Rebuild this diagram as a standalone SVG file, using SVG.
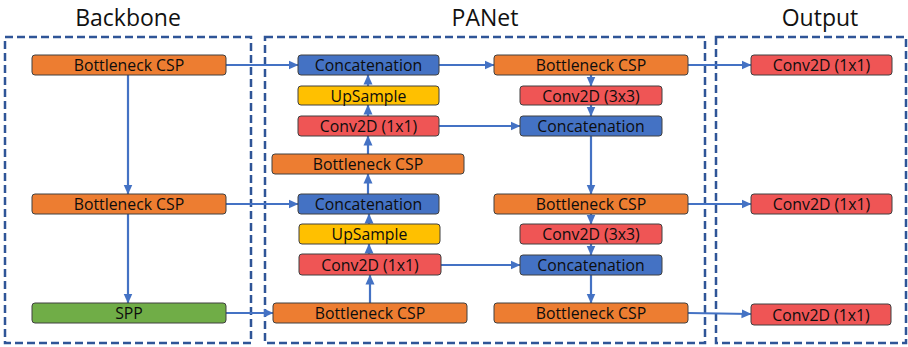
<svg xmlns="http://www.w3.org/2000/svg" width="908" height="347" viewBox="0 0 908 347">
<defs>
<marker id="ah" markerUnits="userSpaceOnUse" markerWidth="10" markerHeight="10" viewBox="0 0 10 10" refX="9.5" refY="5" orient="auto">
<path d="M0,0.5 L10,5 L0,9.5 Z" fill="#4472C4"/>
</marker>
</defs>
<style>
.title{font-family:"Open Sans","Noto Sans",sans-serif;font-size:23px;fill:#111;text-anchor:middle}
.lbl{font-family:"Open Sans","Noto Sans",sans-serif;font-size:15.8px;fill:#0d0d0d;text-anchor:middle;dominant-baseline:central}
.box{stroke:#404040;stroke-width:1}
.or{fill:#ED7D31}.bl{fill:#4472C4}.ye{fill:#FFC000}.rd{fill:#EF5555}.gr{fill:#70AD47}
.grp{fill:none;stroke:#2F5597;stroke-width:2.5;stroke-dasharray:8 4}
.c{fill:none;stroke:#4472C4;stroke-width:2.2;marker-end:url(#ah)}
</style>
<rect width="908" height="347" fill="#fff"/>
<g id="groups">
<rect class="grp" x="5" y="37" width="246" height="306"/>
<rect class="grp" x="265" y="37" width="440" height="306"/>
<rect class="grp" x="716" y="37" width="190" height="306"/>
<text class="title" x="128" y="25.5">Backbone</text>
<text class="title" x="485" y="25.5">PANet</text>
<text class="title" x="820" y="25.5">Output</text>
</g>
<g id="connectors">
<line class="c" x1="226" y1="65" x2="298" y2="65"/>
<line class="c" x1="439" y1="65" x2="494" y2="65"/>
<line class="c" x1="688" y1="65" x2="751" y2="65"/>
<line class="c" x1="128" y1="75" x2="128" y2="194"/>
<line class="c" x1="128" y1="214" x2="128" y2="303"/>
<line class="c" x1="368" y1="86" x2="368" y2="75"/>
<line class="c" x1="368" y1="116" x2="368" y2="105"/>
<line class="c" x1="368" y1="154" x2="368" y2="136"/>
<line class="c" x1="368" y1="194" x2="368" y2="174"/>
<line class="c" x1="439" y1="126" x2="520" y2="126"/>
<line class="c" x1="591" y1="75" x2="591" y2="86"/>
<line class="c" x1="591" y1="105" x2="591" y2="116"/>
<line class="c" x1="591" y1="136" x2="591" y2="194"/>
<line class="c" x1="226" y1="204" x2="298" y2="204"/>
<line class="c" x1="688" y1="204" x2="751" y2="204"/>
<line class="c" x1="369" y1="224" x2="369" y2="214"/>
<line class="c" x1="369" y1="254" x2="369" y2="244"/>
<line class="c" x1="370" y1="303" x2="370" y2="275"/>
<line class="c" x1="441" y1="265" x2="520" y2="265"/>
<line class="c" x1="591" y1="214" x2="591" y2="224"/>
<line class="c" x1="591" y1="244" x2="591" y2="255"/>
<line class="c" x1="591" y1="275" x2="591" y2="303"/>
<line class="c" x1="226" y1="313" x2="273" y2="313"/>
<line class="c" x1="688" y1="313" x2="751" y2="314"/>
</g>
<g id="bb1"><rect class="box or" x="32" y="55" width="194" height="20" rx="3"/><text class="lbl" x="129" y="65">Bottleneck CSP</text></g>
<g id="bb2"><rect class="box or" x="32" y="194" width="194" height="20" rx="3"/><text class="lbl" x="129" y="204">Bottleneck CSP</text></g>
<g id="spp"><rect class="box gr" x="32" y="303" width="194" height="20" rx="3"/><text class="lbl" x="129" y="313">SPP</text></g>
<g id="concat1"><rect class="box bl" x="298" y="55" width="141" height="20" rx="3"/><text class="lbl" x="368.5" y="65">Concatenation</text></g>
<g id="up1"><rect class="box ye" x="298" y="86" width="141" height="19" rx="3"/><text class="lbl" x="368.5" y="95.5">UpSample</text></g>
<g id="conv1"><rect class="box rd" x="298" y="116" width="141" height="20" rx="3"/><text class="lbl" x="368.5" y="126">Conv2D (1x1)</text></g>
<g id="pbcsp1"><rect class="box or" x="272" y="154" width="192" height="20" rx="3"/><text class="lbl" x="368" y="164">Bottleneck CSP</text></g>
<g id="concat2"><rect class="box bl" x="298" y="194" width="141" height="20" rx="3"/><text class="lbl" x="368.5" y="204">Concatenation</text></g>
<g id="up2"><rect class="box ye" x="299" y="224" width="141" height="20" rx="3"/><text class="lbl" x="369.5" y="234">UpSample</text></g>
<g id="conv2"><rect class="box rd" x="299" y="254" width="142" height="21" rx="3"/><text class="lbl" x="370" y="264.5">Conv2D (1x1)</text></g>
<g id="pbcsp2"><rect class="box or" x="273" y="303" width="194" height="20" rx="3"/><text class="lbl" x="370" y="313">Bottleneck CSP</text></g>
<g id="rbcsp1"><rect class="box or" x="494" y="55" width="194" height="20" rx="3"/><text class="lbl" x="591" y="65">Bottleneck CSP</text></g>
<g id="rconv1"><rect class="box rd" x="520" y="86" width="142" height="19" rx="3"/><text class="lbl" x="591" y="95.5">Conv2D (3x3)</text></g>
<g id="rconcat1"><rect class="box bl" x="520" y="116" width="142" height="20" rx="3"/><text class="lbl" x="591" y="126">Concatenation</text></g>
<g id="rbcsp2"><rect class="box or" x="494" y="194" width="194" height="20" rx="3"/><text class="lbl" x="591" y="204">Bottleneck CSP</text></g>
<g id="rconv2"><rect class="box rd" x="520" y="224" width="142" height="20" rx="3"/><text class="lbl" x="591" y="234">Conv2D (3x3)</text></g>
<g id="rconcat2"><rect class="box bl" x="520" y="255" width="142" height="20" rx="3"/><text class="lbl" x="591" y="265">Concatenation</text></g>
<g id="rbcsp3"><rect class="box or" x="494" y="303" width="194" height="20" rx="3"/><text class="lbl" x="591" y="313">Bottleneck CSP</text></g>
<g id="out1"><rect class="box rd" x="751" y="55" width="141" height="20" rx="3"/><text class="lbl" x="821.5" y="65">Conv2D (1x1)</text></g>
<g id="out2"><rect class="box rd" x="751" y="194" width="141" height="20" rx="3"/><text class="lbl" x="821.5" y="204">Conv2D (1x1)</text></g>
<g id="out3"><rect class="box rd" x="751" y="304" width="140" height="21" rx="3"/><text class="lbl" x="821" y="314.5">Conv2D (1x1)</text></g>
</svg>
